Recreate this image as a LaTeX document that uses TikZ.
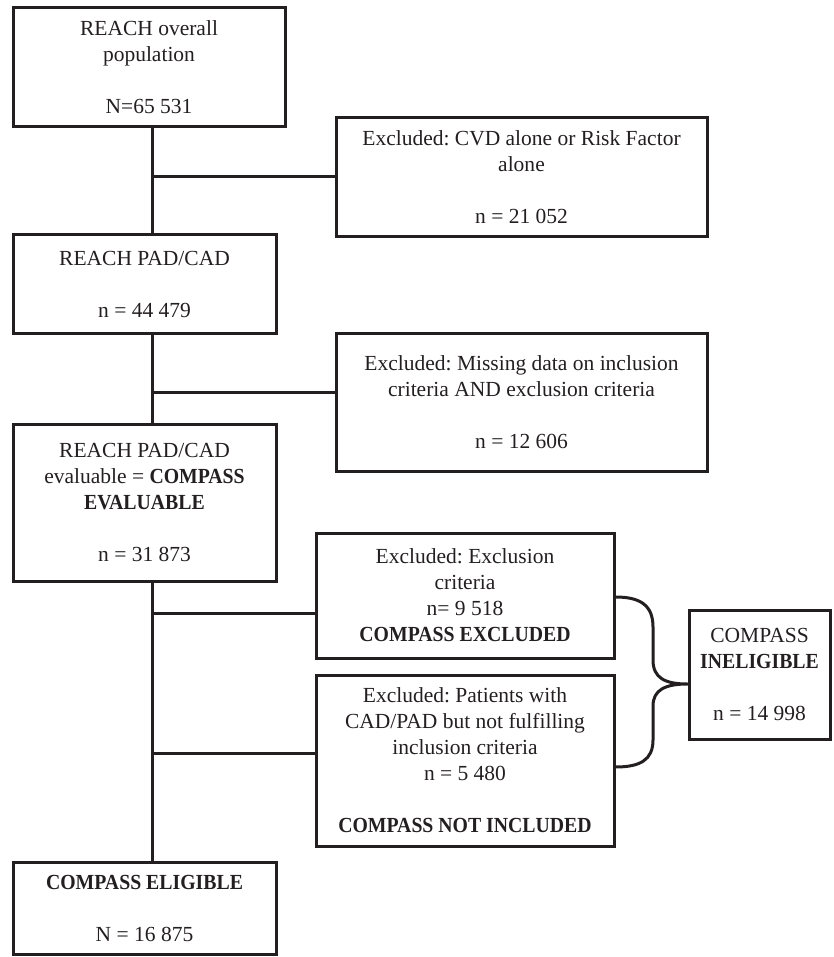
\documentclass[tikz,border=0pt]{standalone}
\usepackage{fontspec}
\setmainfont{Liberation Serif}[BoldFeatures={FakeStretch=0.92}]
\definecolor{ink}{HTML}{231F20}
\begin{document}
\frenchspacing
\begin{tikzpicture}[x=1pt,y=-1pt,
  box/.style={draw=ink, line width=3pt, align=center, inner sep=0pt,
    font=\fontsize{21.5}{26}\selectfont, text=ink},
  link/.style={draw=ink, line width=3pt}]
\useasboundingbox (0,0) rectangle (833,957);
\node[box, minimum width=272pt, minimum height=119pt] (b1) at (149,67.5)
  {REACH overall\\population\\[26pt]N=65 531};
\node[box, minimum width=371pt, minimum height=119pt] (e1) at (521.5,177.5)
  {Excluded: CVD alone or Risk Factor\\alone\\[26pt]n = 21 052};
\node[box, minimum width=263pt, minimum height=98pt] (b2) at (144.5,284)
  {REACH PAD/CAD\\[26pt]n = 44 479};
\node[box, minimum width=371pt, minimum height=138pt] (e2) at (521.5,402)
  {Excluded: Missing data on inclusion\\criteria AND exclusion criteria\\[26pt]n = 12 606};
\node[box, minimum width=263pt, minimum height=157pt] (b3) at (144.5,502.5)
  {REACH PAD/CAD\\evaluable = \textbf{COMPASS}\\\textbf{EVALUABLE}\\[26pt]n = 31 873};
\node[box, minimum width=298pt, minimum height=125pt] (e3) at (465,595.5)
  {Excluded: Exclusion\\criteria\\n= 9 518\\\textbf{COMPASS EXCLUDED}};
\node[box, minimum width=298pt, minimum height=171pt] (e4) at (465,760.5)
  {Excluded: Patients with\\CAD/PAD but not fulfilling\\inclusion criteria\\n = 5 480\\[26pt]\textbf{COMPASS NOT INCLUDED}};
\node[box, minimum width=141pt, minimum height=129pt] (in) at (759.5,674.5)
  {COMPASS\\\textbf{INELIGIBLE}\\[26pt]n = 14 998};
\node[box, minimum width=263pt, minimum height=92pt] (b4) at (144.5,908)
  {\textbf{COMPASS ELIGIBLE}\\[26pt]N = 16 875};
% spine
\coordinate (j1) at (152,177);
\coordinate (j2) at (152,392);
\coordinate (j3) at (152,613);
\coordinate (j4) at (152,753);
\path[link] (b1.south -| j1) -- (b2.north -| j1);
\path[link] (b2.south -| j1) -- (b3.north -| j1);
\path[link] (b3.south -| j1) -- (b4.north -| j1);
\path[link] (j1) -- (j1 -| e1.west);
\path[link] (j2) -- (j2 -| e2.west);
\path[link] (j3) -- (j3 -| e3.west);
\path[link] (j4) -- (j4 -| e4.west);
% brace
\coordinate (bt) at (688,684);
\coordinate (ba) at (614,597);
\coordinate (bb) at (614,767);
\path[link, line join=round] (ba -| e3.east) .. controls (640,597) and (653,605) .. (653,627) -- (653,660)
  .. controls (653,678) and (665,684) .. (bt -| in.west)
  .. controls (665,684) and (653,690) .. (653,706) -- (653,740)
  .. controls (653,760) and (640,767) .. (bb -| e4.east);
\end{tikzpicture}
\end{document}
